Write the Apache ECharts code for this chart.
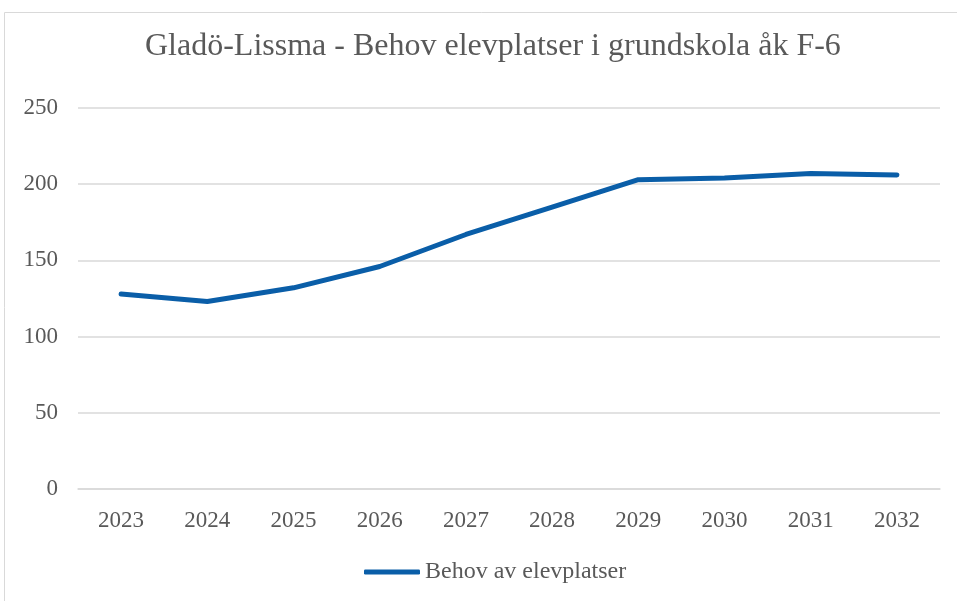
<!DOCTYPE html>
<html>
<head>
<meta charset="utf-8">
<script src="https://cdn.jsdelivr.net/npm/echarts@6/dist/echarts.min.js"></script>
<style>
html, body { margin: 0; padding: 0; background: #fff; }
#main { width: 957px; height: 601px; }
</style>
</head>
<body>
<div id="main"></div>
<script>
var years = ['2023', '2024', '2025', '2026', '2027', '2028', '2029', '2030', '2031', '2032'];
var behov = [128, 123, 132, 146, 167, 185, 203, 204, 207, 206];
var yTicks = { min: 0, max: 250, interval: 50 };

var serif = '"Liberation Serif", "DejaVu Serif", serif';
var grey = '#595959';

var chart = echarts.init(document.getElementById('main'));
chart.setOption({
	animation: false,
	title: {
		text: 'Gladö-Lissma - Behov elevplatser i grundskola åk F-6',
		left: 140,
		top: 26,
		textStyle: { fontFamily: serif, fontSize: 32, fontWeight: 'normal', color: grey }
	},
	graphic: [{
		type: 'rect',
		shape: { x: 4.5, y: 12.5, width: 960, height: 600 },
		style: { fill: 'none', stroke: '#d9d9d9', lineWidth: 1 },
		silent: true
	}],
	legend: {
		bottom: 12,
		left: 359,
		itemWidth: 56,
		itemHeight: 5,
		itemGap: 6,
		icon: 'roundRect',
		textStyle: { fontFamily: serif, fontSize: 24, color: grey },
		data: ['Behov av elevplatser']
	},
	grid: { left: 78, right: 17, top: 108, bottom: 112 },
	xAxis: {
		type: 'category',
		data: years,
		boundaryGap: true,
		axisLine: { lineStyle: { color: '#d9d9d9', width: 1.5 } },
		axisTick: { show: false },
		axisLabel: { margin: 20, fontFamily: serif, fontSize: 23, color: grey }
	},
	yAxis: {
		type: 'value',
		min: yTicks.min,
		max: yTicks.max,
		interval: yTicks.interval,
		axisLine: { show: false },
		axisTick: { show: false },
		splitLine: { lineStyle: { color: '#d9d9d9', width: 1.5 } },
		axisLabel: { margin: 20, fontFamily: serif, fontSize: 23, color: grey }
	},
	series: [{
		name: 'Behov av elevplatser',
		type: 'line',
		data: behov,
		symbol: 'none',
		lineStyle: { color: '#0a5ea8', width: 5, cap: 'round', join: 'round' },
		itemStyle: { color: '#0a5ea8' }
	}]
});
</script>
</body>
</html>
